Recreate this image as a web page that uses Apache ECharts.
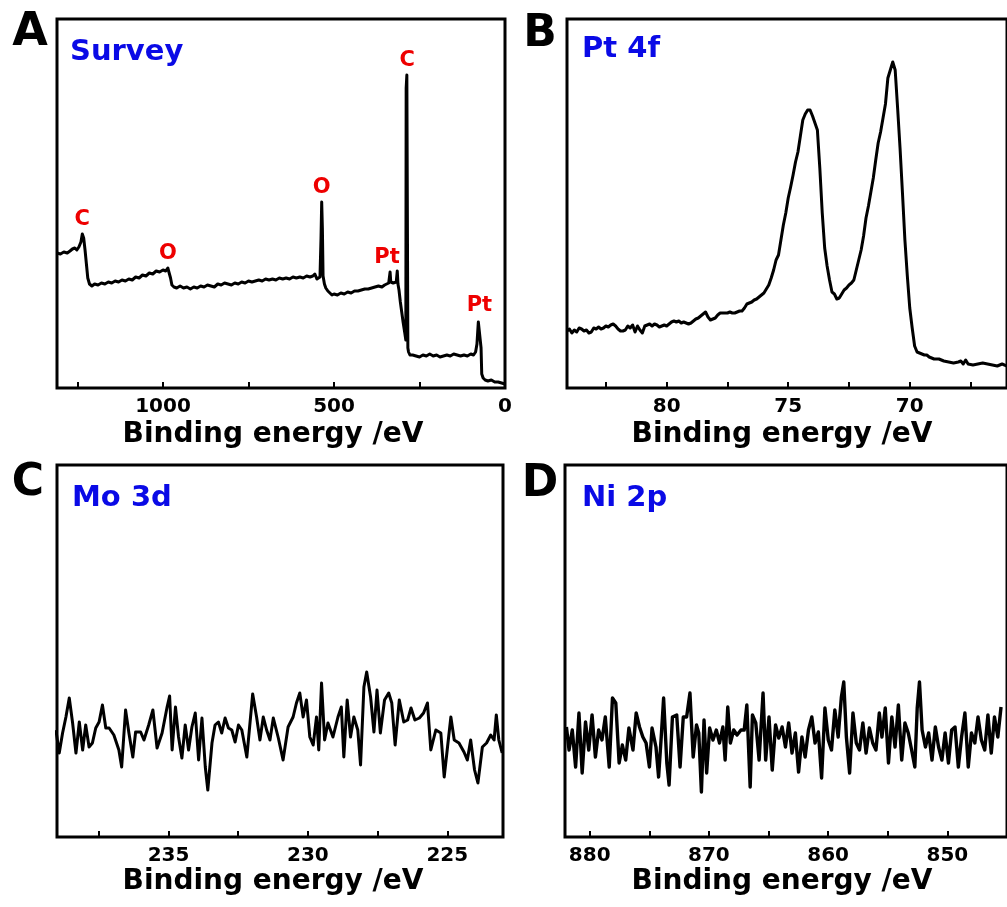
<!DOCTYPE html>
<html>
<head>
<meta charset="utf-8">
<title>XPS spectra</title>
<script src="https://cdn.jsdelivr.net/npm/echarts@6.0.0/dist/echarts.min.js"></script>
<style>
  html, body { margin: 0; padding: 0; background: #fff; }
  #main { width: 1007px; height: 907px; }
</style>
</head>
<body>
<div id="main"></div>
<script>
// ---- data (binding energy in eV, intensity in a.u.) ----

// A: survey
var surveyEnergy = [1310, 1300, 1290, 1280, 1272, 1265, 1258, 1252, 1246, 1240, 1236, 1232, 1228, 1224, 1220, 1215, 1208, 1200, 1190, 1180,
  1170, 1160, 1150, 1140, 1130, 1120, 1110, 1100, 1090, 1080, 1070, 1060, 1050, 1040, 1030, 1020, 1010, 1000, 992, 986,
  982, 978, 974, 968, 960, 950, 940, 930, 920, 910, 900, 890, 880, 870, 860, 850, 840, 830, 820, 810,
  800, 790, 780, 770, 760, 750, 740, 730, 720, 710, 700, 690, 680, 670, 660, 650, 640, 630, 620, 610,
  600, 590, 580, 570, 562, 556, 550, 545, 541, 538, 536, 534, 532, 528, 524, 518, 512, 506, 500, 490,
  480, 470, 460, 450, 440, 430, 420, 410, 400, 390, 380, 370, 360, 352, 346, 340, 336, 334, 331, 327,
  318, 315, 313, 310, 306, 302, 298, 293, 290, 289, 287, 285, 284, 282, 278, 270, 260, 250, 240, 230,
  220, 210, 200, 190, 180, 170, 160, 150, 140, 130, 120, 110, 100, 92, 86, 82, 78, 76, 73, 70,
  68, 64, 58, 50, 40, 30, 20, 10, 0];
var surveyCounts = [135, 134, 136, 135, 137, 139, 140, 138, 141, 146, 154, 150, 138, 124, 110, 104, 102, 104, 103, 105,
  104, 106, 105, 107, 106, 108, 107, 109, 108, 111, 110, 113, 112, 115, 114, 117, 116, 118, 117, 120,
  118, 110, 103, 101, 100, 102, 100, 101, 99, 101, 100, 102, 101, 103, 102, 101, 104, 103, 105, 104,
  103, 105, 104, 106, 105, 107, 106, 107, 108, 107, 109, 108, 109, 108, 110, 109, 110, 109, 111, 110,
  111, 110, 112, 111, 112, 114, 109, 107, 111, 150, 186, 160, 112, 104, 100, 97, 95, 93, 94, 93,
  95, 94, 96, 95, 97, 97, 98, 99, 99, 100, 101, 102, 101, 103, 104, 105, 116, 106, 104, 105,
  106, 117, 104, 98, 86, 76, 66, 55, 48, 300, 313, 313, 40, 36, 33, 33, 32, 31, 33, 32,
  34, 32, 33, 31, 32, 33, 32, 34, 33, 32, 33, 32, 34, 33, 36, 44, 66, 68, 67, 40,
  14, 10, 8, 7, 8, 6, 6, 5, 4];
var surveyPeakNames = ['C', 'O', 'O', 'Pt', 'C', 'Pt'];
var surveyPeakEnergy = [1236, 986, 536, 345, 286, 75];
var surveyPeakCounts = [154, 120, 186, 116, 313, 68];

// B: Pt 4f
var ptEnergy = [84.1, 84.0, 83.9, 83.8, 83.7, 83.6, 83.5, 83.4, 83.3, 83.2, 83.1, 83.0, 82.9, 82.8, 82.7, 82.6, 82.5, 82.4, 82.3, 82.2,
  82.1, 82.0, 81.9, 81.8, 81.7, 81.6, 81.5, 81.4, 81.3, 81.2, 81.1, 81.0, 80.9, 80.8, 80.7, 80.6, 80.5, 80.4, 80.3, 80.2,
  80.1, 80.0, 79.9, 79.8, 79.7, 79.6, 79.5, 79.4, 79.3, 79.2, 79.1, 79.0, 78.9, 78.8, 78.7, 78.6, 78.5, 78.4, 78.3, 78.2,
  78.1, 78.0, 77.9, 77.8, 77.7, 77.6, 77.5, 77.4, 77.3, 77.2, 77.1, 77.0, 76.9, 76.8, 76.7, 76.6, 76.5, 76.4, 76.3, 76.2,
  76.1, 76.0, 75.9, 75.8, 75.7, 75.6, 75.5, 75.4, 75.3, 75.2, 75.1, 75.0, 74.9, 74.8, 74.7, 74.6, 74.5, 74.4, 74.3, 74.2,
  74.1, 74.0, 73.9, 73.8, 73.7, 73.6, 73.5, 73.4, 73.3, 73.2, 73.1, 73.0, 72.9, 72.8, 72.7, 72.6, 72.5, 72.4, 72.3, 72.2,
  72.1, 72.0, 71.9, 71.8, 71.7, 71.6, 71.5, 71.4, 71.3, 71.2, 71.1, 71.0, 70.9, 70.8, 70.7, 70.6, 70.5, 70.4, 70.3, 70.2,
  70.1, 70.0, 69.9, 69.8, 69.7, 69.6, 69.5, 69.4, 69.3, 69.2, 69.1, 69.0, 68.8, 68.6, 68.4, 68.2, 68.0, 67.9, 67.8, 67.7,
  67.6, 67.4, 67.2, 67.0, 66.8, 66.6, 66.4, 66.2, 66.0];
var ptCounts = [57, 59, 55, 58, 56, 60, 59, 57, 58, 55, 56, 60, 59, 61, 59, 60, 62, 61, 63, 64,
  62, 59, 57, 57, 58, 62, 60, 63, 56, 62, 58, 55, 62, 63, 64, 62, 64, 63, 61, 62,
  63, 62, 64, 66, 67, 66, 67, 65, 66, 65, 64, 65, 67, 69, 70, 72, 74, 76, 71, 68,
  69, 70, 73, 75, 75, 75, 75, 76, 75, 75, 76, 77, 77, 80, 84, 85, 86, 88, 89, 91,
  93, 95, 99, 103, 110, 118, 128, 133, 148, 163, 175, 190, 201, 213, 226, 236, 252, 268, 274, 278,
  278, 272, 265, 258, 220, 175, 140, 122, 108, 96, 94, 89, 90, 94, 98, 100, 103, 105, 108, 118,
  128, 138, 152, 170, 182, 196, 210, 228, 245, 256, 270, 284, 310, 318, 326, 318, 280, 240, 195, 148,
  112, 80, 60, 42, 36, 35, 34, 33, 33, 31, 30, 29, 29, 27, 26, 25, 26, 27, 24, 28,
  24, 23, 24, 25, 24, 23, 22, 24, 22];

// C: Mo 3d
var moEnergy = [239.04, 238.92, 238.80, 238.68, 238.56, 238.44, 238.32, 238.20, 238.08, 237.97, 237.85, 237.73, 237.61, 237.49, 237.37, 237.25, 237.13, 236.96, 236.78, 236.68,
  236.54, 236.42, 236.28, 236.18, 236.00, 235.88, 235.71, 235.56, 235.41, 235.23, 235.05, 234.96, 234.87, 234.75, 234.64, 234.52, 234.40, 234.28, 234.16, 234.04,
  233.92, 233.80, 233.68, 233.59, 233.44, 233.33, 233.21, 233.09, 232.97, 232.85, 232.73, 232.61, 232.49, 232.37, 232.19, 231.98, 231.84, 231.72, 231.60, 231.48,
  231.36, 231.24, 231.06, 230.89, 230.71, 230.53, 230.41, 230.29, 230.17, 230.05, 229.93, 229.81, 229.69, 229.61, 229.51, 229.40, 229.28, 229.10, 228.92, 228.80,
  228.71, 228.59, 228.47, 228.35, 228.21, 228.11, 227.99, 227.89, 227.75, 227.63, 227.52, 227.40, 227.25, 227.10, 226.99, 226.87, 226.72, 226.56, 226.42, 226.30,
  226.16, 226.00, 225.85, 225.71, 225.59, 225.41, 225.23, 225.11, 224.99, 224.87, 224.75, 224.58, 224.40, 224.28, 224.16, 224.02, 223.90, 223.74, 223.59, 223.44,
  223.32, 223.24, 223.15, 223.03];
var moCounts = [107, 84, 104, 120, 139, 114, 84, 115, 87, 112, 90, 94, 109, 115, 132, 109, 109, 102, 87, 70,
  127, 104, 80, 105, 105, 97, 112, 127, 89, 104, 130, 141, 87, 130, 100, 79, 112, 87, 110, 124,
  77, 119, 70, 47, 94, 112, 115, 104, 119, 109, 107, 95, 112, 107, 80, 143, 120, 97, 120, 107,
  97, 119, 99, 77, 110, 120, 134, 144, 120, 137, 100, 92, 120, 87, 154, 97, 114, 100, 120, 130,
  80, 137, 100, 120, 107, 72, 150, 165, 140, 105, 147, 104, 137, 144, 134, 92, 137, 115, 117, 129,
  117, 119, 124, 134, 87, 107, 104, 60, 90, 120, 97, 94, 85, 77, 97, 67, 54, 90, 94, 102,
  97, 122, 97, 84];

// D: Ni 2p
var niEnergy = [881.95, 881.73, 881.46, 881.18, 880.90, 880.63, 880.35, 880.08, 879.80, 879.52, 879.25, 878.97, 878.69, 878.36, 878.09, 877.81, 877.53, 877.26, 876.98, 876.71,
  876.37, 876.10, 875.82, 875.54, 875.27, 874.99, 874.77, 874.44, 874.22, 874.00, 873.80, 873.53, 873.34, 873.06, 872.70, 872.42, 872.15, 871.87, 871.59, 871.32,
  871.04, 870.85, 870.63, 870.41, 870.19, 869.94, 869.66, 869.38, 869.11, 868.83, 868.64, 868.42, 868.20, 867.92, 867.64, 867.31, 867.04, 866.82, 866.54, 866.35,
  866.07, 865.79, 865.46, 865.24, 864.96, 864.69, 864.41, 864.14, 863.86, 863.58, 863.31, 863.03, 862.75, 862.48, 862.20, 861.93, 861.65, 861.37, 861.10, 860.82,
  860.55, 860.27, 859.99, 859.72, 859.44, 859.16, 858.89, 858.69, 858.47, 858.20, 857.92, 857.64, 857.37, 857.09, 856.82, 856.54, 856.26, 855.99, 855.71, 855.49,
  855.21, 854.94, 854.66, 854.39, 854.11, 853.83, 853.56, 853.28, 853.00, 852.73, 852.53, 852.34, 852.12, 851.84, 851.57, 851.29, 851.01, 850.74, 850.46, 850.19,
  849.91, 849.64, 849.36, 849.08, 848.81, 848.53, 848.25, 847.98, 847.70, 847.43, 847.15, 846.87, 846.60, 846.32, 846.05, 845.77, 845.50];
var niCounts = [110, 87, 107, 70, 124, 64, 115, 87, 122, 80, 107, 97, 120, 70, 139, 134, 74, 92, 77, 109,
  87, 124, 110, 100, 94, 70, 109, 90, 60, 100, 139, 74, 52, 120, 122, 70, 120, 120, 144, 80,
  112, 104, 45, 117, 64, 109, 97, 107, 94, 110, 77, 130, 94, 107, 102, 107, 107, 132, 50, 122,
  114, 77, 144, 77, 120, 67, 112, 99, 110, 90, 114, 84, 104, 65, 100, 80, 107, 120, 94, 105,
  59, 129, 97, 87, 127, 100, 140, 155, 100, 64, 124, 94, 87, 114, 84, 109, 94, 87, 124, 100,
  129, 74, 120, 90, 132, 77, 114, 104, 87, 70, 129, 155, 107, 90, 104, 77, 110, 90, 77, 104,
  74, 107, 110, 70, 100, 124, 70, 104, 94, 120, 97, 87, 122, 84, 120, 100, 130];

// tick positions and labels
var surveyTicks = [0, 250, 500, 750, 1000, 1250];
var surveyLabels = [0, 500, 1000];
var ptTicks = [67.5, 70, 72.5, 75, 77.5, 80, 82.5];
var ptLabels = [70, 75, 80];
var moTicks = [225, 227.5, 230, 232.5, 235, 237.5];
var moLabels = [225, 230, 235];
var niTicks = [845, 850, 855, 860, 865, 870, 875, 880];
var niLabels = [850, 860, 870, 880];

var panelLetters = ['A', 'B', 'C', 'D'];
var panelTitles = ['Survey', 'Pt 4f', 'Mo 3d', 'Ni 2p'];
var axisTitle = 'Binding energy /eV';

// ---- chart ----
var chart = echarts.init(document.getElementById('main'), null, { renderer: 'canvas' });
var FONT = '"DejaVu Sans", "Liberation Sans", sans-serif';

function pairs(xs, ys) {
  return xs.map(function (x, i) { return [x, ys[i]]; });
}

function grid(left, top, width, height) {
  return {
    left: left, top: top, width: width, height: height,
    show: true, borderColor: '#000', borderWidth: 3, backgroundColor: 'transparent'
  };
}

function xAxis(idx, min, max, ticks, labels) {
  return {
    type: 'value', gridIndex: idx, inverse: true, min: min, max: max,
    axisLine: { show: false },
    splitLine: { show: false },
    axisTick: { show: true, inside: true, length: 6, customValues: ticks, lineStyle: { color: '#000', width: 2 } },
    axisLabel: {
      customValues: labels, color: '#000', fontFamily: FONT, fontWeight: 'bold', fontSize: 20, margin: 9,
      formatter: function (v) { return String(v); }
    }
  };
}

function yAxis(idx, max) {
  return { type: 'value', gridIndex: idx, show: false, min: 0, max: max, splitLine: { show: false } };
}

function spectrum(idx, xs, ys, w) {
  return {
    type: 'line', xAxisIndex: idx, yAxisIndex: idx, data: pairs(xs, ys),
    showSymbol: false, symbol: 'none', silent: true,
    lineStyle: { color: '#000', width: w, join: 'round' }
  };
}

function text(x, y, str, size, color, align) {
  return {
    type: 'text', x: x, y: y, silent: true,
    style: {
      text: str, font: 'bold ' + size + 'px ' + FONT, fill: color,
      align: align, textAlign: align, verticalAlign: 'middle', textVerticalAlign: 'middle'
    }
  };
}

var peakData = surveyPeakNames.map(function (n, i) {
  return { name: n, value: [surveyPeakEnergy[i], surveyPeakCounts[i]] };
});

chart.setOption({
  animation: false,
  backgroundColor: '#fff',
  grid: [
    grid(57, 19, 448, 369),
    grid(567, 19, 447, 369),
    grid(57, 465, 446, 372),
    grid(565, 465, 448, 372)
  ],
  xAxis: [
    xAxis(0, 0, 1310, surveyTicks, surveyLabels),
    xAxis(1, 66, 84.1, ptTicks, ptLabels),
    xAxis(2, 223, 239, moTicks, moLabels),
    xAxis(3, 845, 882.07, niTicks, niLabels)
  ],
  yAxis: [yAxis(0, 369), yAxis(1, 369), yAxis(2, 372), yAxis(3, 372)],
  series: [
    spectrum(0, surveyEnergy, surveyCounts, 3),
    spectrum(1, ptEnergy, ptCounts, 3),
    spectrum(2, moEnergy, moCounts, 3),
    spectrum(3, niEnergy, niCounts, 3.4),
    {
      type: 'scatter', xAxisIndex: 0, yAxisIndex: 0, data: peakData,
      symbolSize: 0, silent: true, z: 5,
      itemStyle: { opacity: 1 },
      label: {
        show: true, position: 'top', distance: 4, formatter: '{b}', opacity: 1,
        color: '#ee0000', fontFamily: FONT, fontWeight: 'bold', fontSize: 21
      }
    }
  ],
  graphic: [
    text(30, 33, panelLetters[0], 46, '#000', 'center'),
    text(540, 35, panelLetters[1], 44, '#000', 'center'),
    text(28, 484, panelLetters[2], 44, '#000', 'center'),
    text(540, 485, panelLetters[3], 44, '#000', 'center'),
    text(70, 52, panelTitles[0], 29, '#0a0ae6', 'left'),
    text(582, 49, panelTitles[1], 29, '#0a0ae6', 'left'),
    text(72, 498, panelTitles[2], 29, '#0a0ae6', 'left'),
    text(582, 498, panelTitles[3], 29, '#0a0ae6', 'left'),
    text(273, 435, axisTitle, 28, '#000', 'center'),
    text(782, 435, axisTitle, 28, '#000', 'center'),
    text(273, 882, axisTitle, 28, '#000', 'center'),
    text(782, 882, axisTitle, 28, '#000', 'center')
  ]
});
</script>
</body>
</html>
